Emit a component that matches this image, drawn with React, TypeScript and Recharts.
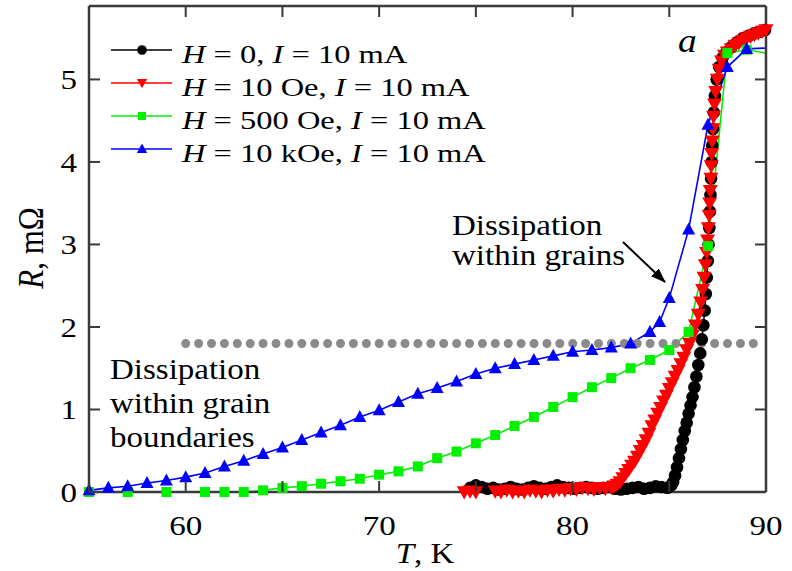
import React from 'react';
import { LineChart, Line, XAxis, YAxis, ReferenceLine, Legend } from 'recharts';

const SERIF = '"Liberation Serif", "Times New Roman", Times, serif';
const FRAME = '#3a3a3a';
const TICK_LEN = 11;

const xTicks = [55, 60, 65, 70, 75, 80, 85, 90];
const xLabels = [60, 70, 80, 90];
const yTicks = [0, 1, 2, 3, 4, 5];

// H = 0, I = 10 mA
const tH0 = [74.7, 75.0, 75.3, 75.6, 75.9, 76.2, 76.5, 76.8, 77.1, 77.4, 77.7, 78.0, 78.3, 78.6, 78.9, 79.2, 79.5, 79.8, 80.1, 80.4, 80.7, 81.0, 81.3, 81.6, 81.9, 82.2, 82.5, 82.8, 83.1, 83.4, 83.7, 84.0, 84.3, 84.6, 84.9,
  85.1, 85.2, 85.3, 85.4, 85.5, 85.6, 85.7, 85.8, 85.9, 86.0, 86.1, 86.2, 86.3, 86.4, 86.5, 86.6,
  86.68, 86.76, 86.83, 86.89, 86.94, 86.99, 87.03, 87.07, 87.1, 87.13, 87.16, 87.19, 87.22, 87.26, 87.3, 87.36, 87.45, 87.58, 87.75, 87.95,
  88.2, 88.5, 88.8, 89.1, 89.4, 89.7, 89.95];
const rH0 = [0.05, 0.08, 0.06, 0.04, 0.05, 0.03, 0.04, 0.06, 0.04, 0.03, 0.05, 0.07, 0.05, 0.04, 0.06, 0.08, 0.06, 0.05, 0.04, 0.05, 0.06, 0.05, 0.04, 0.05, 0.06, 0.04, 0.03, 0.04, 0.05, 0.06, 0.04, 0.05, 0.07, 0.06, 0.05,
  0.08, 0.12, 0.2, 0.3, 0.41, 0.52, 0.63, 0.74, 0.84, 0.95, 1.05, 1.15, 1.27, 1.4, 1.54, 1.68,
  1.85, 2.02, 2.2, 2.4, 2.6, 2.8, 3.0, 3.2, 3.4, 3.6, 3.8, 4.0, 4.2, 4.4, 4.6, 4.8, 5.0, 5.15, 5.26, 5.33,
  5.39, 5.45, 5.5, 5.53, 5.56, 5.58, 5.6];

// H = 10 Oe, I = 10 mA
const tH10 = [74.4, 74.7, 75.0, 76.0, 76.3, 76.6, 76.9, 77.2, 77.5, 77.8, 78.1, 78.4, 78.7, 79.0, 79.3, 79.6, 79.9, 80.2, 80.5, 80.8, 81.1, 81.4, 81.7,
  82.0, 82.15, 82.3, 82.45, 82.6, 82.75, 82.9, 83.05, 83.2, 83.35, 83.5, 83.65, 83.8, 83.95, 84.1, 84.25, 84.4, 84.55, 84.7, 84.85, 85.0, 85.15, 85.3, 85.45, 85.6, 85.75, 85.9, 86.05, 86.2,
  86.35, 86.5, 86.62, 86.72, 86.8, 86.87, 86.93, 86.98, 87.02, 87.06, 87.09, 87.12, 87.15, 87.17, 87.19, 87.22, 87.25, 87.29, 87.34, 87.4, 87.48, 87.58, 87.7, 87.85,
  88.0, 88.2, 88.4, 88.6, 88.8, 89.0, 89.2, 89.4, 89.6, 89.8, 90.0];
const rH10 = [0, 0.01, 0, 0.01, 0, 0.02, 0, 0.01, 0, 0.02, 0.01, 0, 0.02, 0.01, 0.03, 0.02, 0.04, 0.03, 0.05, 0.04, 0.03, 0.05, 0.04,
  0.05, 0.07, 0.09, 0.12, 0.17, 0.22, 0.27, 0.32, 0.37, 0.43, 0.5, 0.56, 0.63, 0.71, 0.8, 0.87, 0.95, 1.02, 1.1, 1.17, 1.25, 1.32, 1.4, 1.47, 1.55, 1.63, 1.72, 1.8, 1.9,
  2.02, 2.15, 2.3, 2.45, 2.6, 2.75, 2.9, 3.05, 3.2, 3.35, 3.5, 3.65, 3.8, 3.95, 4.1, 4.25, 4.4, 4.55, 4.7, 4.85, 5.0, 5.12, 5.22, 5.29,
  5.33, 5.37, 5.41, 5.44, 5.47, 5.5, 5.52, 5.54, 5.56, 5.58, 5.6];

// H = 500 Oe, I = 10 mA
const tH500 = [55, 57, 59, 61, 62, 63, 64, 65, 66, 67, 68, 69, 70, 71, 72, 73, 74, 75, 76, 77, 78, 79, 80, 81, 82, 83, 84, 85, 86, 87, 88, 89, 90];
const rH500 = [0, 0, 0, 0, 0, 0, 0.02, 0.05, 0.07, 0.1, 0.13, 0.16, 0.21, 0.25, 0.31, 0.41, 0.49, 0.59, 0.69, 0.8, 0.91, 1.03, 1.15, 1.27, 1.38, 1.5, 1.6, 1.72, 1.94, 2.98, 5.32, 5.36, 5.32];

// H = 10 kOe, I = 10 mA
const tH10k = [55, 56, 57, 58, 59, 60, 61, 62, 63, 64, 65, 66, 67, 68, 69, 70, 71, 72, 73, 74, 75, 76, 77, 78, 79, 80, 81, 82, 83, 84, 84.5, 85, 86, 87, 88, 89, 90];
const rH10k = [0.02, 0.05, 0.07, 0.11, 0.14, 0.18, 0.23, 0.31, 0.38, 0.46, 0.54, 0.63, 0.72, 0.81, 0.91, 0.99, 1.09, 1.19, 1.26, 1.34, 1.43, 1.5, 1.55, 1.6, 1.65, 1.7, 1.72, 1.75, 1.8, 1.94, 2.06, 2.35, 3.18, 4.45, 5.15, 5.37, 5.38];

// dotted level separating the two dissipation regimes
const levelR = 1.8;
const levelT = [60, 89.5];

const zip = (t: number[], r: number[]) => t.map((T, i) => ({ T, R: r[i] }));

type Shape = 'circle' | 'down' | 'square' | 'up';

// green and blue sit on the mirror (top/right) axes so those axes get ticks; all four axes share one scale
const series: { key: string; field: string; color: string; shape: Shape; size: number; edgeMarker: boolean; xId: string | number; yId: string | number; data: { T: number; R: number }[] }[] = [
  { key: 'h0', field: '0', color: '#000000', shape: 'circle', size: 1.05, edgeMarker: true, xId: 0, yId: 0, data: zip(tH0, rH0) },
  { key: 'h10', field: '10 Oe', color: '#ff0000', shape: 'down', size: 1.15, edgeMarker: true, xId: 0, yId: 0, data: zip(tH10, rH10) },
  { key: 'h500', field: '500 Oe', color: '#00f000', shape: 'square', size: 1, edgeMarker: false, xId: 'top', yId: 'right', data: zip(tH500, rH500) },
  { key: 'h10k', field: '10 kOe', color: '#0000ff', shape: 'up', size: 1, edgeMarker: false, xId: 'top', yId: 'right', data: zip(tH10k, rH10k) },
];

function Marker({ shape, cx, cy, color, s = 1 }: { shape: Shape; cx: number; cy: number; color: string; s?: number }) {
  if (cx == null || cy == null) return <g />;
  switch (shape) {
    case 'circle':
      return <circle cx={cx} cy={cy} r={6 * s} fill={color} />;
    case 'down':
      return <path d={`M${cx - 6.5 * s},${cy - 5 * s}L${cx + 6.5 * s},${cy - 5 * s}L${cx},${cy + 6.5 * s}Z`} fill={color} />;
    case 'square':
      return <rect x={cx - 5 * s} y={cy - 5 * s} width={10 * s} height={10 * s} fill={color} />;
    default:
      return <path d={`M${cx},${cy - 7 * s}L${cx + 6.5 * s},${cy + 5 * s}L${cx - 6.5 * s},${cy + 5 * s}Z`} fill={color} />;
  }
}

function Txt({ x, y, size, sx = 1, anchor = 'start', children }: { x: number; y: number; size: number; sx?: number; anchor?: string; children: React.ReactNode }) {
  return (
    <text transform={`translate(${x} ${y}) scale(${sx} 1)`} textAnchor={anchor} fontFamily={SERIF} fontSize={size} fill="#000">
      {children}
    </text>
  );
}

// tickSize is 0 on every axis, so x/y below sit on the axis line; the inward marks are drawn here
const BottomTick = ({ x, y, payload }: any) => (
  <g>
    <line x1={x} x2={x} y1={y} y2={y - TICK_LEN} stroke={FRAME} strokeWidth={2} />
    {xLabels.includes(payload.value) && (
      <Txt x={x} y={y + 43} size={28} sx={1.18} anchor="middle">{payload.value}</Txt>
    )}
  </g>
);

const TopTick = ({ x, y }: any) => <line x1={x} x2={x} y1={y} y2={y + TICK_LEN} stroke={FRAME} strokeWidth={2} />;

const LeftTick = ({ x, y, payload }: any) => (
  <g>
    <line x1={x} x2={x + TICK_LEN} y1={y} y2={y} stroke={FRAME} strokeWidth={2} />
    <Txt x={x - 12} y={y + 10} size={28} sx={1.18} anchor="end">{payload.value}</Txt>
  </g>
);

const RightTick = ({ x, y }: any) => <line x1={x} x2={x - TICK_LEN} y1={y} y2={y} stroke={FRAME} strokeWidth={2} />;

const YTitle = () => (
  <text transform="translate(43 248) rotate(-90) scale(1 1.15)" textAnchor="middle" fontFamily={SERIF} fontSize={31} fill="#000">
    <tspan fontStyle="italic">R</tspan>, mΩ
  </text>
);

const XTitle = () => (
  <Txt x={425} y={563} size={30} sx={1.1} anchor="middle">
    <tspan fontStyle="italic">T</tspan>, K
  </Txt>
);

const LegendBox = () => (
  <svg width={520} height={180} style={{ position: 'absolute', left: 0, top: 0, overflow: 'visible' }}>
    {series.map((s, i) => {
      const y = 50 + 33 * i;
      return (
        <g key={s.key}>
          <line x1={111} x2={172} y1={y} y2={y} stroke={s.color} strokeWidth={1.6} />
          <Marker shape={s.shape} cx={142} cy={y} color={s.color} s={0.8} />
          <Txt x={182} y={63 + 33 * i} size={26} sx={1.25}>
            <tspan fontStyle="italic">H</tspan>
            {` = ${s.field}, `}
            <tspan fontStyle="italic">I</tspan>
            {' = 10 mA'}
          </Txt>
        </g>
      );
    })}
  </svg>
);

const Notes = () => (
  <svg width={792} height={571} style={{ position: 'absolute', left: 0, top: 0, pointerEvents: 'none' }}>
    <defs>
      <marker id="head" markerWidth={15} markerHeight={11} refX={14} refY={5.5} orient="auto" markerUnits="userSpaceOnUse">
        <path d="M0,0L15,5.5L0,11Z" fill="#000" />
      </marker>
    </defs>
    <Txt x={452} y={235} size={30} sx={1.1}>Dissipation</Txt>
    <Txt x={452} y={265} size={30} sx={1.1}>within grains</Txt>
    <line x1={623} y1={242} x2={665} y2={282} stroke="#000" strokeWidth={2} markerEnd="url(#head)" />
    <Txt x={110} y={379} size={30} sx={1.1}>Dissipation</Txt>
    <Txt x={110} y={413} size={30} sx={1.1}>within grain</Txt>
    <Txt x={110} y={447} size={30} sx={1.1}>boundaries</Txt>
    <Txt x={678} y={52} size={34} sx={1.1}>
      <tspan fontStyle="italic">a</tspan>
    </Txt>
  </svg>
);

const axisLine = { stroke: FRAME, strokeWidth: 2.5 };

export default function App() {
  return (
    <div style={{ position: 'absolute', left: 0, top: 0, width: 792, height: 571, background: '#fff' }}>
      <LineChart width={792} height={571} margin={{ top: 5, right: 25, bottom: 0, left: 0 }}>
        <XAxis
          dataKey="T"
          type="number"
          domain={[55, 90]}
          ticks={xTicks}
          interval={0}
          height={79}
          tickSize={0}
          tickMargin={0}
          tickLine={false}
          tick={<BottomTick />}
          axisLine={axisLine}
          label={<XTitle />}
        />
        <XAxis
          xAxisId="top"
          orientation="top"
          dataKey="T"
          type="number"
          domain={[55, 90]}
          ticks={xTicks}
          interval={0}
          height={1}
          tickSize={0}
          tickMargin={0}
          tickLine={false}
          tick={<TopTick />}
          axisLine={axisLine}
        />
        <YAxis
          type="number"
          domain={[0, 5.89]}
          ticks={yTicks}
          interval={0}
          width={89}
          tickSize={0}
          tickMargin={0}
          tickLine={false}
          tick={<LeftTick />}
          axisLine={axisLine}
          label={<YTitle />}
        />
        <YAxis
          yAxisId="right"
          orientation="right"
          type="number"
          domain={[0, 5.89]}
          ticks={yTicks}
          interval={0}
          width={1}
          tickSize={0}
          tickMargin={0}
          tickLine={false}
          tick={<RightTick />}
          axisLine={axisLine}
        />
        <Legend
          layout="horizontal"
          verticalAlign="middle"
          align="center"
          wrapperStyle={{ left: 0, top: 0, width: 520, height: 180 }}
          content={() => <LegendBox />}
        />
        {series.map((s) => (
          <Line
            key={s.key}
            xAxisId={s.xId}
            yAxisId={s.yId}
            data={s.data}
            dataKey="R"
            type="linear"
            stroke={s.color}
            strokeWidth={1.6}
            isAnimationActive={false}
            dot={(p: any) =>
              !s.edgeMarker && p.payload.T >= 90 ? (
                <g key={p.index} />
              ) : (
                <Marker key={p.index} shape={s.shape} cx={p.cx} cy={p.cy} color={s.color} s={s.size} />
              )
            }
            activeDot={false}
          />
        ))}
        <ReferenceLine
          segment={[
            { x: levelT[0], y: levelR },
            { x: levelT[1], y: levelR },
          ]}
          stroke="#8a8a8a"
          strokeWidth={9}
          strokeDasharray="0 12.9"
          strokeLinecap="round"
        />
      </LineChart>
      <Notes />
    </div>
  );
}
